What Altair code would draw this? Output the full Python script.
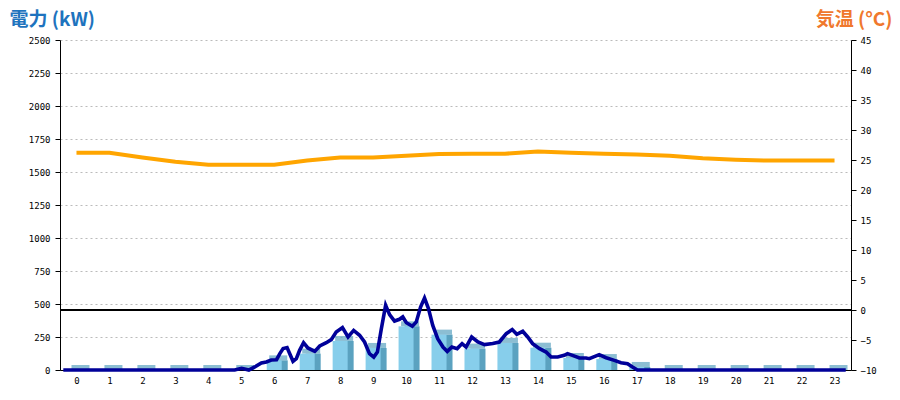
import altair as alt
import pandas as pd

# ---- data ----
hours = list(range(24))
# hourly demand bars (kW)
power_bar_kw = [0, 0, 0, 0, 0, 0, 73, 124, 220, 167, 331, 268,
                162, 205, 169, 91, 83, 23, 0, 0, 0, 0, 0, 0]
# hourly air temperature (deg C)
temp_c = [26.2, 26.2, 25.4, 24.7, 24.2, 24.2, 24.2, 24.9, 25.4, 25.4, 25.7, 26.0,
          26.05, 26.05, 26.4, 26.2, 26.05, 25.9, 25.7, 25.3, 25.05, 24.9, 24.9, 24.9]
# detailed demand trace: time of day (h) and kW
line_hour = [0.10, 5.30, 5.51, 5.73, 5.91, 6.11, 6.26, 6.41, 6.57, 6.67, 6.77, 6.89,
             7.07, 7.17, 7.27, 7.39, 7.52, 7.73, 7.88, 8.08, 8.23, 8.38, 8.57, 8.74,
             8.91, 9.09, 9.24, 9.39, 9.52, 9.63, 9.75, 9.88, 10.00, 10.15, 10.30, 10.40,
             10.51, 10.69, 10.81, 10.94, 11.06, 11.18, 11.31, 11.46, 11.62, 11.75, 11.89,
             12.05, 12.20, 12.32, 12.49, 12.68, 12.88, 13.13, 13.33, 13.54, 13.72, 13.86,
             14.04, 14.19, 14.34, 14.55, 14.75, 14.90, 15.10, 15.30, 15.40, 15.55, 15.76,
             15.96, 16.06, 16.36, 16.57, 16.82, 17.02, 17.22, 17.37, 17.52, 23.84]
line_kw = [0, 0, 13, 0, 23, 53, 61, 76, 78, 124, 162, 170,
           66, 86, 149, 207, 167, 141, 182, 207, 230, 288, 321, 250,
           300, 263, 212, 124, 98, 136, 313, 490, 419, 371, 384, 402,
           358, 331, 364, 477, 545, 465, 338, 237, 174, 141, 174,
           162, 200, 174, 250, 212, 192, 200, 212, 275, 306, 270,
           293, 250, 200, 162, 136, 98, 98, 111, 124, 111, 91,
           91, 86, 116, 93, 73, 55, 48, 23, 0, 0]
kw_ticks = list(range(0, 2501, 250))
temp_ticks = list(range(-10, 46, 5))

bars_df = pd.DataFrame({"hour": hours, "kw": power_bar_kw, "temp": temp_c})
line_df = pd.DataFrame({"t": line_hour, "kw": line_kw})

LABEL_FONT = "DejaVu Sans Mono"
TITLE_FONT = "Noto Sans CJK JP"

x_scale = alt.Scale(domain=[-0.5, 23.5], nice=False, zero=False, padding=0)
kw_scale = alt.Scale(domain=[0, 2500], nice=False, zero=False, padding=0)
t_scale = alt.Scale(domain=[-10, 45], nice=False, zero=False, padding=0)

x_axis = alt.Axis(values=hours, tickCount=len(hours), format="d", ticks=False,
                  grid=False, domainColor="black", labelFont=LABEL_FONT,
                  labelFontSize=9, labelColor="black", labelPadding=6, labelAngle=0,
                  labelOverlap=False, title=None)

left_axis = alt.Axis(values=kw_ticks, tickCount=len(kw_ticks), format="d", grid=True,
                     gridDash=[2, 3], gridColor="#bbbbbb", gridWidth=1, tickSize=5,
                     tickColor="black", domainColor="black", labelPadding=5,
                     labelFont=LABEL_FONT, labelFontSize=9, labelColor="black",
                     labelOverlap=False, orient="left",
                     title="電力 (kW)", titleAngle=0, titleX=-51, titleY=-15,
                     titleAlign="left", titleBaseline="alphabetic", titleFont=TITLE_FONT,
                     titleFontSize=19, titleFontWeight="bold", titleColor="#1E73BE")

right_axis = alt.Axis(values=temp_ticks, tickCount=len(temp_ticks), format="d",
                      grid=False, tickSize=5, tickColor="black", domainColor="black",
                      labelPadding=4, labelFont=LABEL_FONT, labelFontSize=9,
                      labelColor="black", labelOverlap=False, orient="right",
                      title="気温 (°C)", titleAngle=0, titleX=41, titleY=-15,
                      titleAlign="right", titleBaseline="alphabetic",
                      titleFont=TITLE_FONT, titleFontSize=19, titleFontWeight="bold",
                      titleColor="#F0782D")

base_bars = alt.Chart(bars_df)
X_hour = alt.X("hour:Q", scale=x_scale, axis=x_axis)
Y_kw = alt.Y("kw:Q", scale=kw_scale, axis=left_axis)

# temperature side (drawn first, nothing overlaps it)
temp_line = base_bars.mark_line(color="#FFA500", strokeWidth=4).encode(
    x=X_hour,
    y=alt.Y("temp:Q", scale=t_scale, axis=right_axis),
)
zero_rule = base_bars.mark_rule(color="black", strokeWidth=1).encode(
    y=alt.YDatum(0, scale=t_scale, axis=right_axis),
)
temp_layer = alt.layer(zero_rule, temp_line)

# 3D-looking bars: darker side face, darker top face, light front face
side = base_bars.mark_bar(size=15, color="#5BA2C0", xOffset=6).encode(x=X_hour, y=Y_kw)
top = base_bars.mark_tick(orient="horizontal", size=18, thickness=5,
                          color="#5BA2C0", xOffset=4, yOffset=-2.5).encode(x=X_hour, y=Y_kw)
front = base_bars.mark_bar(size=15, color="#87CEEB").encode(x=X_hour, y=Y_kw)

power_line = alt.Chart(line_df).transform_calculate(x="datum.t - 0.5").mark_line(
    color="#000099", strokeWidth=3.6
).encode(
    x=alt.X("x:Q", scale=x_scale, axis=x_axis),
    y=alt.Y("kw:Q", scale=kw_scale, axis=left_axis),
)
kw_layer = alt.layer(side, top, front, power_line)

chart = alt.layer(temp_layer, kw_layer).resolve_scale(
    y="independent"
).properties(
    width=791, height=330,
    autosize=alt.AutoSizeParams(type="none"),
    padding={"left": 52, "top": 32, "right": 41, "bottom": 22},
    background="white",
).configure_view(strokeWidth=0).configure_axis(labelOverlap=False)

chart.save("out.html", embed_options={"renderer": "svg", "actions": False})
